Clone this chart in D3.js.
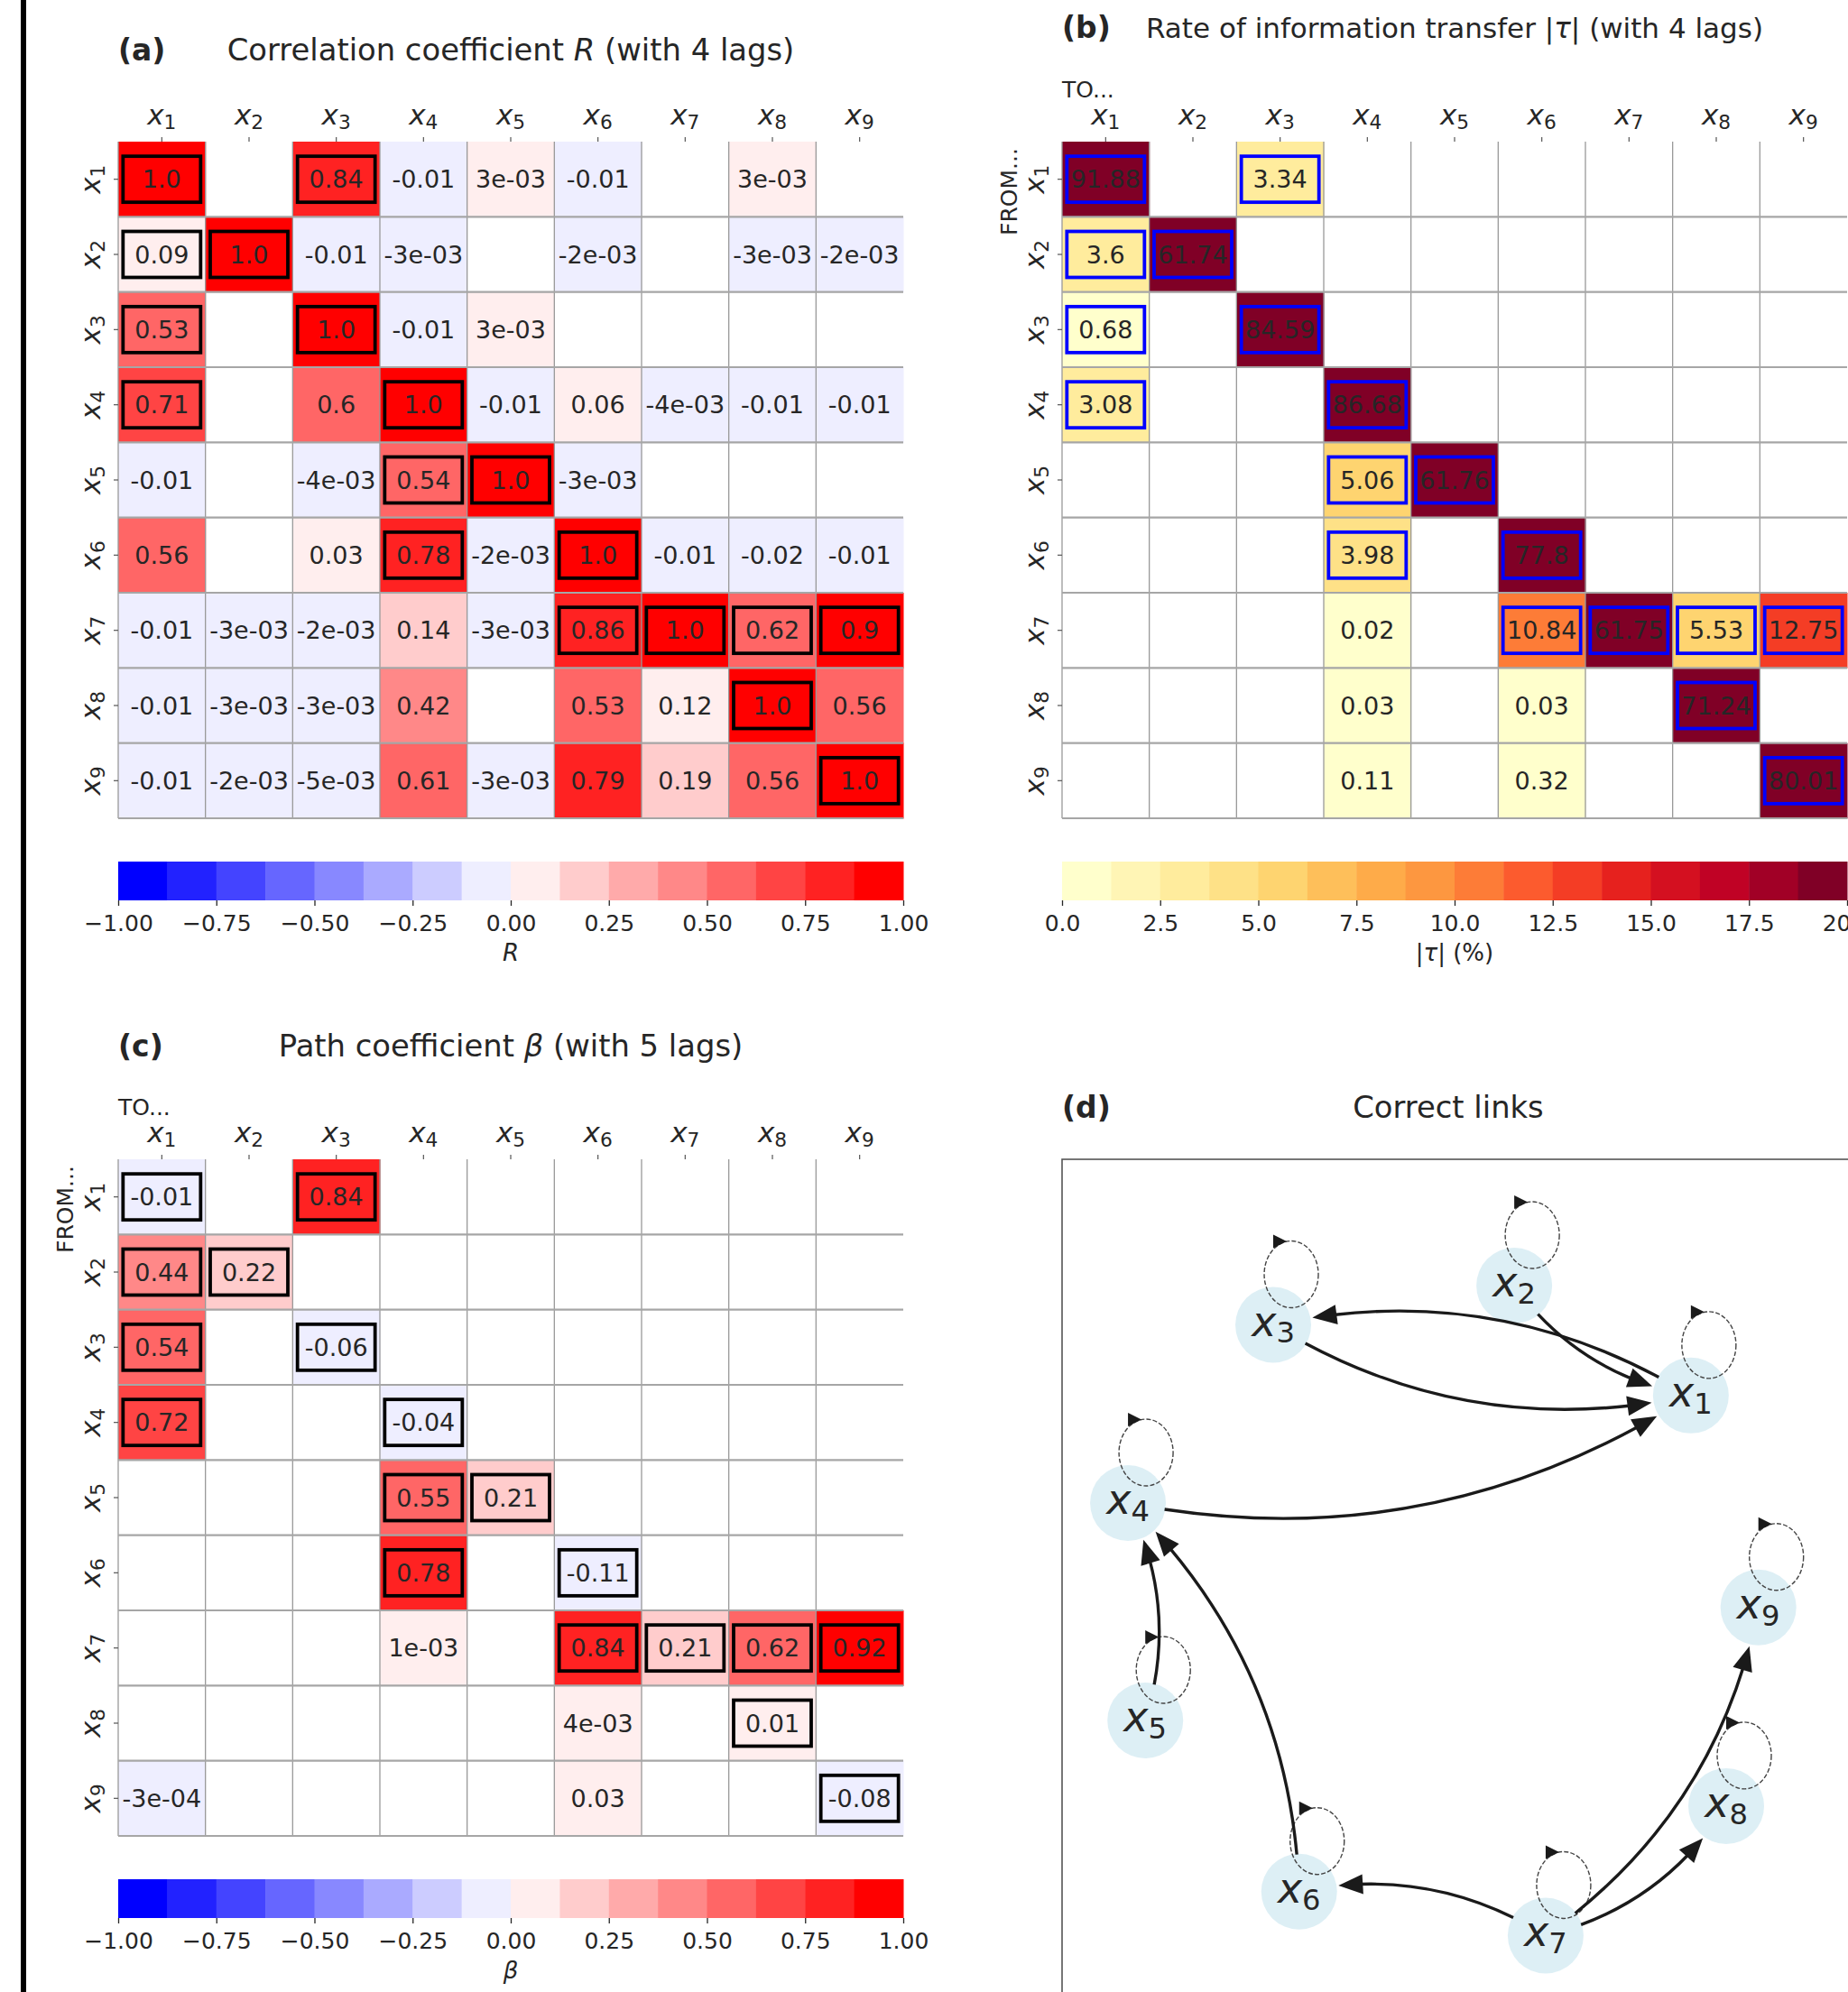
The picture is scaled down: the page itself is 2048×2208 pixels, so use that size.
<!DOCTYPE html>
<html>
<head>
<meta charset="utf-8">
<script src="https://cdn.jsdelivr.net/npm/d3@7"></script>
<style>
  body { margin: 0; background: #fff; }
  svg { display: block; }
  text { font-family: "DejaVu Sans", sans-serif; fill: #262626; }
</style>
</head>
<body>
<svg id="fig" width="2048" height="2208"></svg>
<script>
// ---------------- data ----------------
const varIds = ["1", "2", "3", "4", "5", "6", "7", "8", "9"];

// true causal links [from, to] (self links included)
const trueLinks = [
  [1, 1], [1, 3], [2, 1], [2, 2], [3, 1], [3, 3], [4, 1], [4, 4], [5, 4], [5, 5],
  [6, 4], [6, 6], [7, 6], [7, 7], [7, 8], [7, 9], [8, 8], [9, 9]
];

// (a) correlation coefficient R, rows = from, cols = to (null = not shown)
const corrR = [
  [1.0, null, 0.84, -0.01, 0.003, -0.01, null, 0.003, null],
  [0.09, 1.0, -0.01, -0.003, null, -0.002, null, -0.003, -0.002],
  [0.53, null, 1.0, -0.01, 0.003, null, null, null, null],
  [0.71, null, 0.6, 1.0, -0.01, 0.06, -0.004, -0.01, -0.01],
  [-0.01, null, -0.004, 0.54, 1.0, -0.003, null, null, null],
  [0.56, null, 0.03, 0.78, -0.002, 1.0, -0.01, -0.02, -0.01],
  [-0.01, -0.003, -0.002, 0.14, -0.003, 0.86, 1.0, 0.62, 0.9],
  [-0.01, -0.003, -0.003, 0.42, null, 0.53, 0.12, 1.0, 0.56],
  [-0.01, -0.002, -0.005, 0.61, -0.003, 0.79, 0.19, 0.56, 1.0]
];

// (b) rate of information transfer |tau| in %
const tauPct = [
  [91.88, null, 3.34, null, null, null, null, null, null],
  [3.6, 61.74, null, null, null, null, null, null, null],
  [0.68, null, 84.59, null, null, null, null, null, null],
  [3.08, null, null, 86.68, null, null, null, null, null],
  [null, null, null, 5.06, 61.76, null, null, null, null],
  [null, null, null, 3.98, null, 77.8, null, null, null],
  [null, null, null, 0.02, null, 10.84, 61.75, 5.53, 12.75],
  [null, null, null, 0.03, null, 0.03, null, 71.24, null],
  [null, null, null, 0.11, null, 0.32, null, null, 80.01]
];

// (c) path coefficient beta
const betaPath = [
  [-0.01, null, 0.84, null, null, null, null, null, null],
  [0.44, 0.22, null, null, null, null, null, null, null],
  [0.54, null, -0.06, null, null, null, null, null, null],
  [0.72, null, null, -0.04, null, null, null, null, null],
  [null, null, null, 0.55, 0.21, null, null, null, null],
  [null, null, null, 0.78, null, -0.11, null, null, null],
  [null, null, null, 0.001, null, 0.84, 0.21, 0.62, 0.92],
  [null, null, null, null, null, 0.004, null, 0.01, null],
  [-0.0003, null, null, null, null, 0.03, null, null, -0.08]
];

const rTicks = [-1, -0.75, -0.5, -0.25, 0, 0.25, 0.5, 0.75, 1];
const tauTicks = [0, 2.5, 5, 7.5, 10, 12.5, 15, 17.5, 20];

// (d) node layout (fraction of the graph frame)
const nodeX = [0.801, 0.576, 0.269, 0.084, 0.106, 0.302, 0.616, 0.846, 0.887];
const nodeY = [0.301, 0.161, 0.211, 0.438, 0.715, 0.933, 0.989, 0.824, 0.571];

// ---------------- colour maps ----------------
const NBINS = 16;
const bwrBase = d3.scaleLinear().domain([0, 0.5, 1]).range(["#0000ff", "#ffffff", "#ff0000"]);
const ylorrdBase = d3.scaleLinear()
  .domain(d3.range(9).map(i => i / 8))
  .range(["#ffffcc", "#ffeda0", "#fed976", "#feb24c", "#fd8d3c", "#fc4e2a", "#e31a1c", "#bd0026", "#800026"]);
const bwrColors = d3.range(NBINS).map(i => d3.color(bwrBase(i / (NBINS - 1))).formatHex());
const ylColors = d3.range(NBINS).map(i => d3.color(ylorrdBase(i / (NBINS - 1))).formatHex());
const colorR = d3.scaleQuantize().domain([-1, 1]).range(bwrColors);
const colorTau = d3.scaleQuantize().domain([0, 20]).range(ylColors);

// ---------------- helpers ----------------
const svg = d3.select("#fig");
const W = 870, H = 750;           // heat-map block size
const CB_H = 43;                  // colour-bar height

function fmtCell(v) {
  if (Math.abs(v) < 0.01) {
    const s = v.toExponential(0);               // e.g. "3e-3"
    return s.replace(/e([+-])(\d)$/, "e$10$2");
  }
  const r = Math.round(v * 100) / 100;
  return Number.isInteger(r) ? r.toFixed(1) : String(r);
}

function mathX(textSel, id, fs) {
  textSel.text(null);
  textSel.append("tspan").attr("font-style", "italic").text("x");
  textSel.append("tspan").attr("font-size", fs * 0.7).attr("dy", fs * 0.17).text(id);
}

function title(x0, baseline, label, parts, cx, fs) {
  svg.append("text").attr("x", x0).attr("y", baseline)
    .attr("font-size", 33).attr("font-weight", "bold").text(label);
  const t = svg.append("text").attr("x", cx).attr("y", baseline)
    .attr("font-size", fs).attr("text-anchor", "middle");
  parts.forEach(p => {
    const s = t.append("tspan").text(p.t);
    if (p.i) s.attr("font-style", "italic");
  });
}

function heatmap(x0, y0, values, color, boxColor, opts) {
  const g = svg.append("g");
  const xs = d3.scaleBand().domain(varIds).range([x0, x0 + W]);
  const ys = d3.scaleBand().domain(varIds).range([y0, y0 + H]);
  const cells = [];
  values.forEach((row, i) => row.forEach((v, j) => {
    if (v !== null) cells.push({ from: varIds[i], to: varIds[j], v });
  }));

  g.selectAll("rect.cell").data(cells).join("rect")
    .attr("x", d => xs(d.to)).attr("y", d => ys(d.from))
    .attr("width", xs.bandwidth() + 0.5).attr("height", ys.bandwidth() + 0.5)
    .attr("fill", d => color(d.v));

  // grid
  g.selectAll("line.v").data(varIds).join("line")
    .attr("x1", d => xs(d)).attr("x2", d => xs(d))
    .attr("y1", y0).attr("y2", y0 + H)
    .attr("stroke", "#999").attr("stroke-width", 1.3);
  g.selectAll("line.h").data(varIds).join("line")
    .attr("x1", x0).attr("x2", x0 + W)
    .attr("y1", d => ys(d) + ys.bandwidth()).attr("y2", d => ys(d) + ys.bandwidth())
    .attr("stroke", "#a6a6a6").attr("stroke-width", 2.2);

  // boxes around true links
  const bw = 86, bh = 51;
  g.selectAll("rect.link").data(trueLinks).join("rect")
    .attr("x", d => xs(String(d[1])) + xs.bandwidth() / 2 - bw / 2)
    .attr("y", d => ys(String(d[0])) + ys.bandwidth() / 2 - bh / 2)
    .attr("width", bw).attr("height", bh)
    .attr("fill", "none").attr("stroke", boxColor).attr("stroke-width", 3.8);

  // values
  g.selectAll("text.val").data(cells).join("text")
    .attr("x", d => xs(d.to) + xs.bandwidth() / 2)
    .attr("y", d => ys(d.from) + ys.bandwidth() / 2)
    .attr("dy", "0.36em").attr("text-anchor", "middle").attr("font-size", 27)
    .text(d => fmtCell(d.v));

  // axes
  const top = g.append("g").attr("transform", `translate(0,${y0})`)
    .call(d3.axisTop(xs).tickSize(5).tickPadding(14));
  const left = g.append("g").attr("transform", `translate(${x0},0)`)
    .call(d3.axisLeft(ys).tickSize(5).tickPadding(12));
  [top, left].forEach(a => {
    a.select(".domain").remove();
    a.selectAll(".tick line").attr("stroke", "#555").attr("stroke-width", 1.2);
    a.selectAll("text").attr("font-size", 31).attr("font-family", null).attr("fill", "#262626");
  });
  top.selectAll(".tick text").each(function (d) { mathX(d3.select(this), d, 31); });
  left.selectAll(".tick text")
    .attr("x", null).attr("dy", null).attr("text-anchor", "middle")
    .attr("transform", "translate(-20,0) rotate(-90)")
    .each(function (d) { mathX(d3.select(this), d, 31); });

  if (opts && opts.toFrom) {
    svg.append("text").attr("x", x0).attr("y", y0 - 49).attr("font-size", 25).text("TO...");
    svg.append("text").attr("transform", `translate(${x0 - 50},${y0 + 104}) rotate(-90)`)
      .attr("font-size", 25).text("FROM...");
  }
}

function colorbar(x0, y0, domain, colors, ticks, fmt, labelParts) {
  const g = svg.append("g");
  const x = d3.scaleLinear().domain(domain).range([x0, x0 + W]);
  const step = (domain[1] - domain[0]) / colors.length;
  g.selectAll("rect").data(colors).join("rect")
    .attr("x", (c, i) => x(domain[0] + i * step))
    .attr("width", (c, i) => x(domain[0] + (i + 1) * step) - x(domain[0] + i * step) + 0.5)
    .attr("y", y0).attr("height", CB_H).attr("fill", c => c);
  const ax = g.append("g").attr("transform", `translate(0,${y0 + CB_H})`)
    .call(d3.axisBottom(x).tickValues(ticks).tickFormat(d3.format(fmt)).tickSize(6).tickPadding(10));
  ax.select(".domain").remove();
  ax.selectAll(".tick line").attr("stroke", "#262626").attr("stroke-width", 1.3);
  ax.selectAll("text").attr("font-size", 25).attr("font-family", null).attr("fill", "#262626");
  const lab = g.append("text").attr("x", x0 + W / 2).attr("y", y0 + CB_H + 67)
    .attr("text-anchor", "middle").attr("font-size", 26);
  labelParts.forEach(p => {
    const s = lab.append("tspan").text(p.t);
    if (p.i) s.attr("font-style", "italic");
  });
}

// ---------------- figure ----------------
svg.append("rect").attr("x", 23).attr("y", 0).attr("width", 6).attr("height", 2208).attr("fill", "#000");

// (a)
title(131, 67, "(a)", [{ t: "Correlation coefficient " }, { t: "R", i: true }, { t: " (with 4 lags)" }], 131 + W / 2, 33.8);
heatmap(131, 157, corrR, colorR, "#000", null);
colorbar(131, 955, [-1, 1], bwrColors, rTicks, ".2f", [{ t: "R", i: true }]);

// (b)
title(1177, 42, "(b)", [{ t: "Rate of information transfer |" }, { t: "τ", i: true }, { t: "| (with 4 lags)" }], 1177 + W / 2, 31);
heatmap(1177, 157, tauPct, colorTau, "#0000ff", { toFrom: true });
colorbar(1177, 955, [0, 20], ylColors, tauTicks, ".1f", [{ t: "|" }, { t: "τ", i: true }, { t: "| (%)" }]);

// (c)
title(131, 1171, "(c)", [{ t: "Path coefficient " }, { t: "β", i: true }, { t: " (with 5 lags)" }], 131 + W / 2, 33.8);
heatmap(131, 1285, betaPath, colorR, "#000", { toFrom: true });
colorbar(131, 2083, [-1, 1], bwrColors, rTicks, ".2f", [{ t: "β", i: true }]);

// (d) network of correct links
svg.append("text").attr("x", 1177).attr("y", 1239).attr("font-size", 33).attr("font-weight", "bold").text("(d)");
svg.append("text").attr("x", 1177 + W / 2 - 7).attr("y", 1239).attr("font-size", 33.8)
  .attr("text-anchor", "middle").text("Correct links");
svg.append("rect").attr("x", 1177).attr("y", 1285).attr("width", 1000).attr("height", 1000)
  .attr("fill", "none").attr("stroke", "#555").attr("stroke-width", 1.6);

const gx = d3.scaleLinear().domain([0, 1]).range([1177, 1177 + W]);
const gy = d3.scaleLinear().domain([0, 1]).range([1285, 1285 + W]);
const nodes = varIds.map((id, i) => ({ id, x: gx(nodeX[i]), y: gy(nodeY[i]) }));
const nodeById = new Map(nodes.map(n => [n.id, n]));
const NODE_R = 42;

const gNet = svg.append("g");
gNet.selectAll("circle").data(nodes).join("circle")
  .attr("cx", d => d.x).attr("cy", d => d.y).attr("r", NODE_R)
  .attr("fill", "#add8e6").attr("fill-opacity", 0.42);

// self loops (dashed)
const selfLinks = trueLinks.filter(l => l[0] === l[1]).map(l => nodeById.get(String(l[0])));
const LRX = 30, LRY = 37, LDX = 20, LDY = -56;
gNet.selectAll("ellipse").data(selfLinks).join("ellipse")
  .attr("cx", d => d.x + LDX).attr("cy", d => d.y + LDY).attr("rx", LRX).attr("ry", LRY)
  .attr("fill", "none").attr("stroke", "#444").attr("stroke-width", 1.4).attr("stroke-dasharray", "5,2.2");
gNet.selectAll("path.loopHead").data(selfLinks).join("path")
  .attr("d", d => {
    const cx = d.x + LDX, topY = d.y + LDY - LRY;
    const tip = [cx - 5, topY + 0.5];
    return `M${tip[0]},${tip[1]} L${tip[0] - 15},${tip[1] - 7.5} L${tip[0] - 15},${tip[1] + 7.5} Z`;
  })
  .attr("fill", "#1a1a1a");

// directed links between different nodes, drawn as arc3 (rad = 0.2) curves
const RAD = 0.2, ARROW_L = 27, ARROW_W = 11, TIP_R = 44, START_R = 41;
function qpt(p0, c, p2, t) {
  const u = 1 - t;
  return [u * u * p0[0] + 2 * u * t * c[0] + t * t * p2[0], u * u * p0[1] + 2 * u * t * c[1] + t * t * p2[1]];
}
function blossom(p0, c, p2, a, b) {
  const w0 = (1 - a) * (1 - b), w1 = (1 - a) * b + a * (1 - b), w2 = a * b;
  return [w0 * p0[0] + w1 * c[0] + w2 * p2[0], w0 * p0[1] + w1 * c[1] + w2 * p2[1]];
}
const dist = (a, b) => Math.hypot(a[0] - b[0], a[1] - b[1]);

const crossLinks = trueLinks.filter(l => l[0] !== l[1]).map(l => {
  const s = nodeById.get(String(l[0])), t = nodeById.get(String(l[1]));
  const p0 = [s.x, s.y], p2 = [t.x, t.y];
  const dx = p2[0] - p0[0], dy = p2[1] - p0[1];
  const c = [(p0[0] + p2[0]) / 2 - RAD * dy, (p0[1] + p2[1]) / 2 + RAD * dx];
  const N = 3000;
  let t0 = 0, tTip = 1, tEnd = 1;
  for (let k = 0; k <= N; k++) { const tt = k / N; if (dist(qpt(p0, c, p2, tt), p0) >= START_R) { t0 = tt; break; } }
  for (let k = N; k >= 0; k--) { const tt = k / N; if (dist(qpt(p0, c, p2, tt), p2) >= TIP_R) { tTip = tt; break; } }
  const tip = qpt(p0, c, p2, tTip);
  for (let k = Math.round(tTip * N); k >= 0; k--) { const tt = k / N; if (dist(qpt(p0, c, p2, tt), tip) >= ARROW_L * 0.85) { tEnd = tt; break; } }
  let tBase = tEnd;
  for (let k = Math.round(tTip * N); k >= 0; k--) { const tt = k / N; if (dist(qpt(p0, c, p2, tt), tip) >= ARROW_L) { tBase = tt; break; } }
  const base = qpt(p0, c, p2, tBase);
  return { p0, c, p2, t0, tEnd, tip, base };
});

gNet.selectAll("path.edge").data(crossLinks).join("path")
  .attr("d", d => {
    const a = qpt(d.p0, d.c, d.p2, d.t0), b = qpt(d.p0, d.c, d.p2, d.tEnd);
    const cc = blossom(d.p0, d.c, d.p2, d.t0, d.tEnd);
    const p = d3.path(); p.moveTo(a[0], a[1]); p.quadraticCurveTo(cc[0], cc[1], b[0], b[1]);
    return p.toString();
  })
  .attr("fill", "none").attr("stroke", "#1a1a1a").attr("stroke-width", 3.4);

gNet.selectAll("path.head").data(crossLinks).join("path")
  .attr("d", d => {
    const ux = (d.tip[0] - d.base[0]) / ARROW_L, uy = (d.tip[1] - d.base[1]) / ARROW_L;
    const nx = -uy, ny = ux;
    return `M${d.tip[0]},${d.tip[1]} L${d.base[0] + nx * ARROW_W},${d.base[1] + ny * ARROW_W} ` +
      `L${d.base[0] - nx * ARROW_W},${d.base[1] - ny * ARROW_W} Z`;
  })
  .attr("fill", "#1a1a1a");

// node labels
gNet.selectAll("text.node").data(nodes).join("text")
  .attr("x", d => d.x).attr("y", d => d.y + 12).attr("text-anchor", "middle").attr("font-size", 46)
  .each(function (d) { mathX(d3.select(this), d.id, 46); });
</script>
</body>
</html>
